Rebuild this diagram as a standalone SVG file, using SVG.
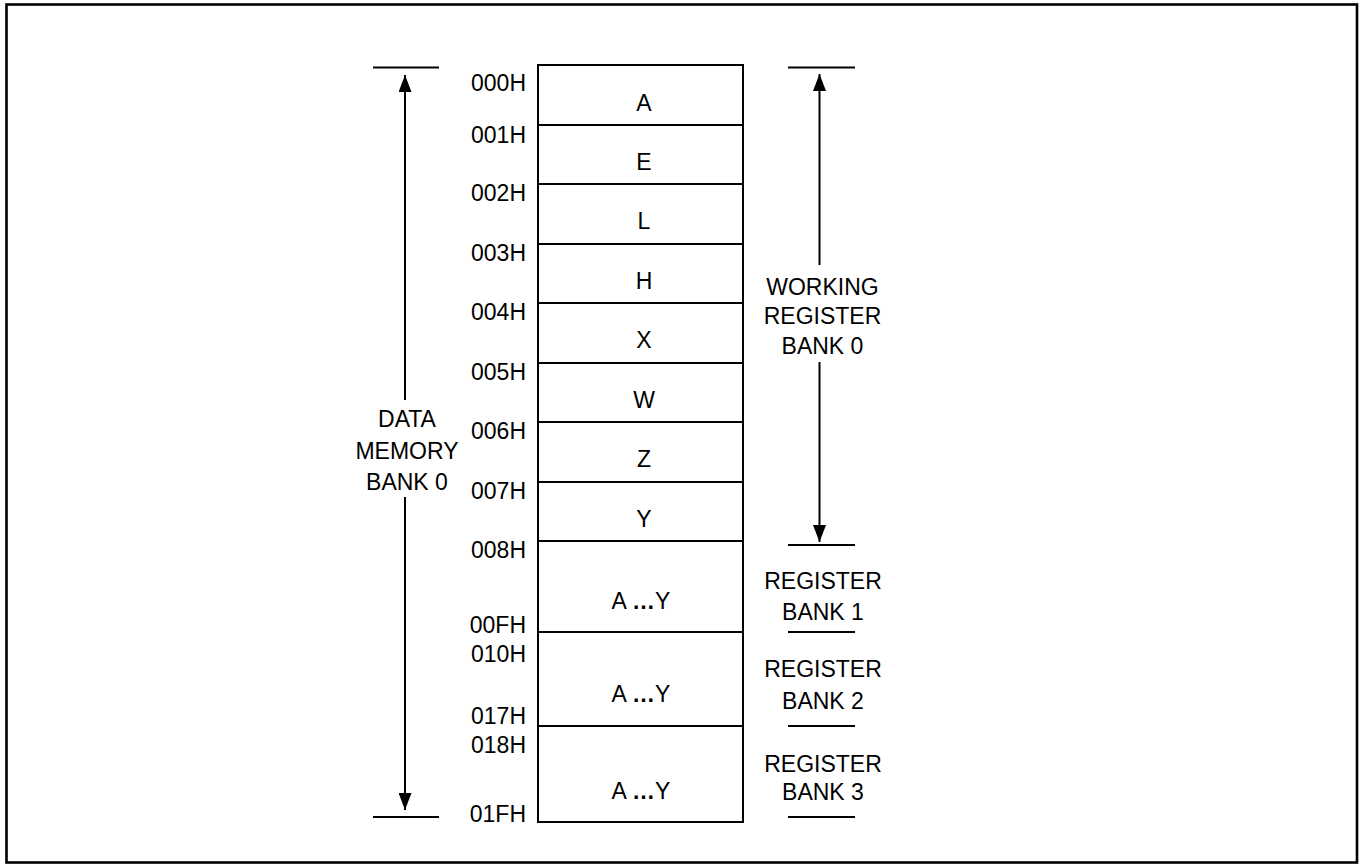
<svg xmlns="http://www.w3.org/2000/svg" width="1363" height="868" viewBox="0 0 1363 868">
  <style>
    .ln { stroke: #000; stroke-width: 2; fill: none; }
    .frame { stroke: #000; stroke-width: 2.6; fill: none; }
    text { font-family: "Liberation Sans", Arial, sans-serif; font-size: 23px; fill: #000; }
    .addr { text-anchor: end; }
    .mid { text-anchor: middle; }
  </style>
  <defs>
    <marker id="ah" viewBox="0 0 17 13" refX="17" refY="6.5" markerWidth="17" markerHeight="13" markerUnits="userSpaceOnUse" orient="auto-start-reverse">
      <path d="M0,0 L17,6.5 L0,13 z" fill="#000"/>
    </marker>
  </defs>
  <rect class="frame" x="6.5" y="4.5" width="1350.5" height="858"/>

  <g id="memory">
    <rect class="ln" x="538" y="65" width="205" height="757"/>
    <line class="ln" x1="538" y1="125" x2="743" y2="125"/>
    <line class="ln" x1="538" y1="184" x2="743" y2="184"/>
    <line class="ln" x1="538" y1="244" x2="743" y2="244"/>
    <line class="ln" x1="538" y1="303" x2="743" y2="303"/>
    <line class="ln" x1="538" y1="363" x2="743" y2="363"/>
    <line class="ln" x1="538" y1="422" x2="743" y2="422"/>
    <line class="ln" x1="538" y1="482" x2="743" y2="482"/>
    <line class="ln" x1="538" y1="541" x2="743" y2="541"/>
    <line class="ln" x1="538" y1="632" x2="743" y2="632"/>
    <line class="ln" x1="538" y1="726" x2="743" y2="726"/>
    <text class="mid" x="644" y="110.5">A</text>
    <text class="mid" x="644" y="169.5">E</text>
    <text class="mid" x="644" y="229">L</text>
    <text class="mid" x="644" y="288.5">H</text>
    <text class="mid" x="644" y="348">X</text>
    <text class="mid" x="644" y="407.5">W</text>
    <text class="mid" x="644" y="467">Z</text>
    <text class="mid" x="644" y="526.5">Y</text>
    <text class="mid" x="641" y="608.5">A <tspan font-weight="bold">…</tspan>Y</text>
    <text class="mid" x="641" y="702">A <tspan font-weight="bold">…</tspan>Y</text>
    <text class="mid" x="641" y="798.5">A <tspan font-weight="bold">…</tspan>Y</text>
  </g>

  <g id="addresses">
    <text class="addr" x="526" y="91">000H</text>
    <text class="addr" x="526" y="142.5">001H</text>
    <text class="addr" x="526" y="201">002H</text>
    <text class="addr" x="526" y="261">003H</text>
    <text class="addr" x="526" y="320">004H</text>
    <text class="addr" x="526" y="380">005H</text>
    <text class="addr" x="526" y="439">006H</text>
    <text class="addr" x="526" y="499">007H</text>
    <text class="addr" x="526" y="558">008H</text>
    <text class="addr" x="526" y="633">00FH</text>
    <text class="addr" x="526" y="662">010H</text>
    <text class="addr" x="526" y="724">017H</text>
    <text class="addr" x="526" y="753">018H</text>
    <text class="addr" x="526" y="822">01FH</text>
  </g>

  <g id="data-memory-bank0">
    <text class="mid" x="407" y="427">DATA</text>
    <text class="mid" x="407" y="458.5">MEMORY</text>
    <text class="mid" x="407" y="489.5">BANK 0</text>
  </g>

  <g id="working-register-bank0">
    <text class="mid" x="822.5" y="294.5">WORKING</text>
    <text class="mid" x="822.5" y="323.5">REGISTER</text>
    <text class="mid" x="822.5" y="354">BANK 0</text>
  </g>

  <g id="register-bank1">
    <text class="mid" x="823" y="588.5">REGISTER</text>
    <text class="mid" x="823" y="620">BANK 1</text>
  </g>
  <g id="register-bank2">
    <text class="mid" x="823" y="677">REGISTER</text>
    <text class="mid" x="823" y="708.5">BANK 2</text>
  </g>
  <g id="register-bank3">
    <text class="mid" x="823" y="772">REGISTER</text>
    <text class="mid" x="823" y="800">BANK 3</text>
  </g>

  <g id="connectors">
    <line class="ln" x1="373" y1="67.5" x2="439" y2="67.5"/>
    <line class="ln" x1="373" y1="817" x2="439" y2="817"/>
    <line class="ln" x1="405" y1="75" x2="405" y2="400" marker-start="url(#ah)"/>
    <line class="ln" x1="405" y1="497" x2="405" y2="810" marker-end="url(#ah)"/>

    <line class="ln" x1="788" y1="67.5" x2="855" y2="67.5"/>
    <line class="ln" x1="788" y1="545" x2="855" y2="545"/>
    <line class="ln" x1="788" y1="632" x2="855" y2="632"/>
    <line class="ln" x1="788" y1="726" x2="855" y2="726"/>
    <line class="ln" x1="788" y1="817" x2="855" y2="817"/>
    <line class="ln" x1="819.5" y1="74" x2="819.5" y2="265" marker-start="url(#ah)"/>
    <line class="ln" x1="819.5" y1="362" x2="819.5" y2="542" marker-end="url(#ah)"/>
  </g>
</svg>
